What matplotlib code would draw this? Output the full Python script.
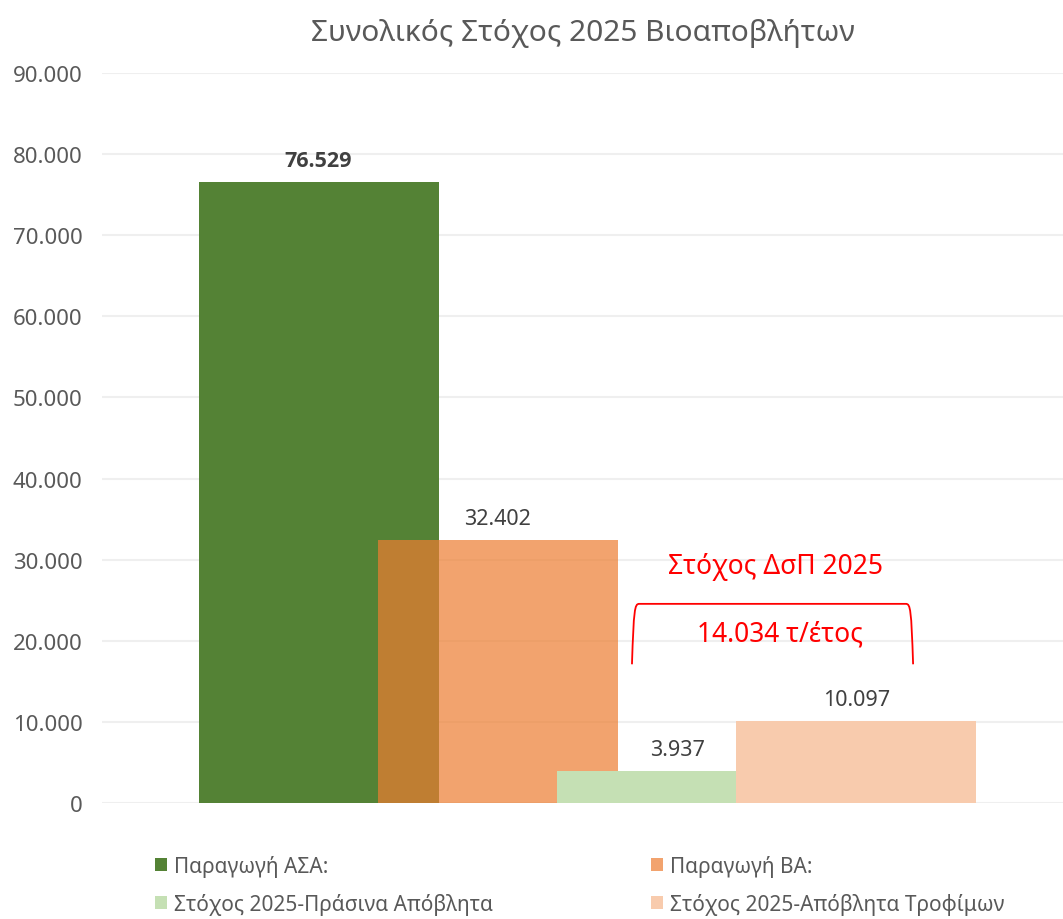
import matplotlib.pyplot as plt
from matplotlib.path import Path
from matplotlib.patches import PathPatch
from matplotlib.ticker import FuncFormatter

plt.rcParams['font.family'] = ['Noto Sans', 'DejaVu Sans']

series = ['Παραγωγή ΑΣΑ:', 'Παραγωγή ΒΑ:',
          'Στόχος 2025-Πράσινα Απόβλητα', 'Στόχος 2025-Απόβλητα Τροφίμων']
values = [76529, 32402, 3937, 10097]
colors = ['#548235', '#ED7D31', '#C5E0B4', '#F8CBAD']
alphas = [1.0, 0.7, 1.0, 1.0]
yticks = [0, 10000, 20000, 30000, 40000, 50000, 60000, 70000, 80000, 90000]


def dotted(v, pos=None):
    return f'{int(v):,}'.replace(',', '.')


fig = plt.figure(figsize=(10.63, 9.2), dpi=100)
ax = fig.add_axes([0.096, 0.1261, 0.904, 0.7935])

grey = '#595959'
width = 1.338
handles = []
for i, (name, v, c, a) in enumerate(zip(series, values, colors, alphas)):
    b = ax.bar(i, v, width=width, color=c, alpha=a, label=name, zorder=2 + i)
    handles.append(b)
    if i == 0:
        ax.text(i, v + 2700, dotted(v), ha='center', va='center', fontsize=15.5,
                color='#404040', fontweight='bold', family=['Open Sans', 'DejaVu Sans'],
                zorder=10)
    else:
        ax.text(i, v + 2700, dotted(v), ha='center', va='center', fontsize=15.5,
                color='#404040', zorder=10)

ax.set_xlim(-1.2075, 4.152)
ax.set_ylim(0, 90000)
ax.set_yticks(yticks)
ax.yaxis.set_major_formatter(FuncFormatter(dotted))
ax.set_xticks([])
ax.tick_params(axis='y', length=0, pad=14, labelsize=16, labelcolor=grey)
ax.grid(axis='y', color='#EFEFEF', linewidth=1.5, zorder=0)
ax.set_axisbelow(True)
for s in ax.spines.values():
    s.set_visible(False)

ax.set_title('Συνολικός Στόχος 2025 Βιοαποβλήτων', fontsize=21.5, color=grey,
             pad=24)

# bracket over the two 2025 targets
x0, x1 = 1.748, 3.316
yb, yt = 17100, 24550
r = 0.04
verts = [(x0, yb), (x0 + 0.01, yt - 700), (x0 + 0.015, yt), (x0 + r, yt),
         (x1 - r, yt), (x1 - 0.015, yt), (x1 - 0.01, yt - 700), (x1, yb)]
codes = [Path.MOVETO, Path.CURVE4, Path.CURVE4, Path.CURVE4,
         Path.LINETO, Path.CURVE4, Path.CURVE4, Path.CURVE4]
ax.add_patch(PathPatch(Path(verts, codes), fill=False, edgecolor='#FF0000',
                       linewidth=1.3, zorder=9))
ax.text(2.547, 29200, 'Στόχος ΔσΠ 2025', ha='center', va='center',
        fontsize=19, color='#FF0000', zorder=10)
ax.text(2.575, 20840, f'{dotted(values[2] + values[3])} τ/έτος', ha='center',
        va='center', fontsize=19, color='#FF0000', zorder=10)

# two-column legend filled row by row
order = [0, 2, 1, 3]
leg = fig.legend([handles[k] for k in order], [series[k] for k in order],
                 loc='upper left', ncol=2, bbox_to_anchor=(0.128, 0.09),
                 frameon=False, fontsize=15, handlelength=0.6, handleheight=0.6,
                 handletextpad=0.3, columnspacing=7.6, labelspacing=0.75)
for t in leg.get_texts():
    t.set_color(grey)

fig.savefig('out.png', dpi=100)
